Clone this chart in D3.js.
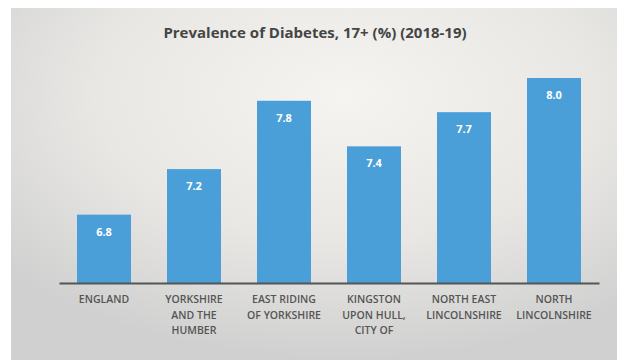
<!DOCTYPE html>
<html>
<head>
    <title>Prevalence of Diabetes</title>
    <script src="https://d3js.org/d3.v7.min.js"></script>
    <style>
        body { margin: 0; background: #ffffff; }
        svg { display: block; }
    </style>
</head>
<body>
    <div id="chart"></div>

    <script>
        // data
        var categories = ["England", "Yorkshire and the Humber", "East Riding of Yorkshire",
            "Kingston upon Hull, City of", "North East Lincolnshire", "North Lincolnshire"];
        var tickLines = [
            ["ENGLAND"],
            ["YORKSHIRE", "AND THE", "HUMBER"],
            ["EAST RIDING", "OF YORKSHIRE"],
            ["KINGSTON", "UPON HULL,", "CITY OF"],
            ["NORTH EAST", "LINCOLNSHIRE"],
            ["NORTH", "LINCOLNSHIRE"]
        ];
        var values = [6.8, 7.2, 7.8, 7.4, 7.7, 8.0];
        var title = "Prevalence of Diabetes, 17+ (%) (2018-19)";

        var width = 617, height = 360;
        var plotLeft = 59, plotRight = 599, baseline = 283, plotTop = 78;

        var svg = d3.select("#chart").append("svg")
            .attr("width", width)
            .attr("height", height);

        var defs = svg.append("defs");
        var grad = defs.append("radialGradient")
            .attr("id", "bg")
            .attr("cx", "55%").attr("cy", "25%").attr("r", "75%");
        grad.append("stop").attr("offset", "0%").attr("stop-color", "#f5f4f1");
        grad.append("stop").attr("offset", "55%").attr("stop-color", "#e8e7e4");
        grad.append("stop").attr("offset", "100%").attr("stop-color", "#d0d0d0");

        svg.append("rect")
            .attr("x", 11).attr("y", 8)
            .attr("width", width - 11).attr("height", height - 8)
            .attr("fill", "url(#bg)");

        var x = d3.scaleBand()
            .domain(categories)
            .range([plotLeft, plotRight])
            .paddingInner(0.4)
            .paddingOuter(0.2);

        var y = d3.scaleLinear()
            .domain([6.2, 8.0])
            .range([baseline, plotTop]);

        // title
        svg.append("text")
            .attr("x", 315)
            .attr("y", 38)
            .attr("text-anchor", "middle")
            .style("font-family", "'Open Sans', sans-serif")
            .style("font-weight", "bold")
            .style("font-size", "15px")
            .style("fill", "#454545")
            .text(title);

        // bars
        svg.selectAll(".bar")
            .data(values)
            .enter().append("rect")
            .attr("class", "bar")
            .attr("x", function(d, i) { return x(categories[i]); })
            .attr("y", function(d) { return y(d); })
            .attr("width", x.bandwidth())
            .attr("height", function(d) { return baseline - y(d); })
            .attr("fill", "#4a9fd8");

        // value labels
        svg.selectAll(".val")
            .data(values)
            .enter().append("text")
            .attr("class", "val")
            .attr("x", function(d, i) { return x(categories[i]) + x.bandwidth() / 2; })
            .attr("y", function(d) { return y(d) + 21; })
            .attr("text-anchor", "middle")
            .style("font-family", "'Open Sans', sans-serif")
            .style("font-weight", "bold")
            .style("font-size", "11px")
            .style("fill", "#ffffff")
            .text(function(d) { return d.toFixed(1); });

        // axis
        var axis = svg.append("g")
            .attr("transform", "translate(0," + baseline + ")")
            .call(d3.axisBottom(x).tickSize(0).tickFormat(""));
        axis.select(".domain")
            .attr("stroke", "#555555")
            .attr("stroke-width", 2);

        var ticks = svg.selectAll(".tick-label")
            .data(categories)
            .enter().append("text")
            .attr("class", "tick-label")
            .attr("x", function(d) { return x(d) + x.bandwidth() / 2; })
            .attr("y", 303)
            .attr("text-anchor", "middle")
            .style("font-family", "'Open Sans', sans-serif")
            .style("font-weight", "600")
            .style("font-size", "10.5px")
            .style("fill", "#555555");

        ticks.selectAll("tspan")
            .data(function(d, i) { return tickLines[i]; })
            .enter().append("tspan")
            .attr("x", function() { return d3.select(this.parentNode).attr("x"); })
            .attr("dy", function(d, j) { return j === 0 ? 0 : 15.5; })
            .text(function(d) { return d; });
    </script>
</body>
</html>
